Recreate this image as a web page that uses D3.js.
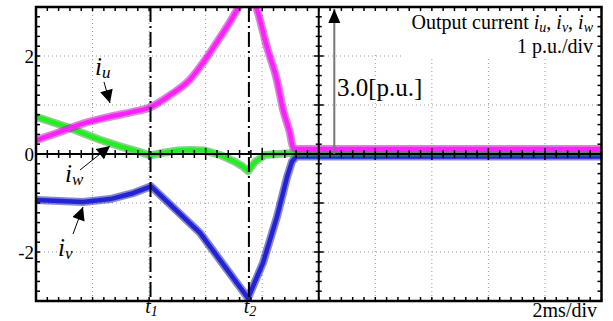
<!DOCTYPE html>
<html>
<head>
<meta charset="utf-8">
<script src="https://cdn.jsdelivr.net/npm/d3@7"></script>
<style>
  body { margin: 0; background: #fff; }
  svg { display: block; font-family: "Liberation Serif", "Times New Roman", serif; }
</style>
</head>
<body>
<figure id="scope" style="margin:0"></figure>
<script>
// time in ms (2 ms/div), current in p.u. (1 p.u./div)
const iuTime = [0, 0.85, 1.66, 2.62, 3.43, 4.03, 4.74, 5.45, 5.98, 6.51, 6.97, 7.21, 7.5, 7.75, 7.82, 8.17, 8.52, 8.74, 8.98, 9.09, 9.23, 20];
const iuVal  = [0.28, 0.45, 0.62, 0.76, 0.86, 0.95, 1.2, 1.52, 1.92, 2.38, 2.8, 3.05, 3.4, 3.05, 2.94, 2.18, 1.51, 0.9, 0.43, 0.14, 0.1, 0.1];

const ivTime = [0, 0.85, 1.66, 2.62, 3.43, 4.07, 5.8, 7.5, 8.03, 8.52, 8.88, 9.05, 9.2, 20];
const ivVal  = [-0.94, -0.96, -0.98, -0.92, -0.8, -0.66, -1.61, -2.94, -2.22, -1.29, -0.47, -0.16, -0.05, -0.05];

const iwTime = [0, 1.1, 2.26, 3.0, 3.43, 3.68, 4.03, 4.56, 5.0, 5.45, 5.98, 6.51, 7.04, 7.3, 7.5, 7.75, 8.1, 9.09, 20];
const iwVal  = [0.76, 0.55, 0.29, 0.15, 0.08, 0.04, -0.03, 0.03, 0.07, 0.08, 0.07, -0.02, -0.16, -0.25, -0.35, -0.16, -0.02, 0.02, 0.03];

const yTickLabels = [2, 0, -2];
const eventTimes = [4.05, 7.53];
const eventLabels = ["1", "2"];

const width = 613, height = 321;
const plotLeft = 36, plotRight = 601.5, plotTop = 7, plotBottom = 301;

const x = d3.scaleLinear().domain([0, 20]).range([plotLeft, plotRight]);
const y = d3.scaleLinear().domain([-3, 3]).range([plotBottom, plotTop]);

const svg = d3.select("figure#scope")
  .append("svg")
  .attr("width", width)
  .attr("height", height)
  .attr("viewBox", [0, 0, width, height]);

const defs = svg.append("defs");
defs.append("clipPath").attr("id", "clip")
  .append("rect")
  .attr("x", plotLeft).attr("y", plotTop)
  .attr("width", plotRight - plotLeft).attr("height", plotBottom - plotTop);
defs.append("marker")
  .attr("id", "head")
  .attr("viewBox", "0 0 10 10")
  .attr("refX", 10).attr("refY", 5)
  .attr("markerWidth", 14).attr("markerHeight", 13)
  .attr("markerUnits", "userSpaceOnUse")
  .attr("orient", "auto")
  .append("path").attr("d", "M0,0L10,5L0,10Z").attr("fill", "#000");

// dotted grid (every division, except the centre cross)
const gx = d3.range(2, 20, 2).filter(d => d !== 10);
const gy = [-2, -1, 1, 2];
svg.append("g")
  .attr("stroke", "#9a9a9a")
  .attr("stroke-width", 1)
  .attr("stroke-dasharray", "1,3")
  .call(g => g.selectAll("line.v").data(gx).join("line")
    .attr("x1", d => x(d)).attr("x2", d => x(d))
    .attr("y1", plotTop).attr("y2", plotBottom))
  .call(g => g.selectAll("line.h").data(gy).join("line")
    .attr("x1", plotLeft).attr("x2", plotRight)
    .attr("y1", d => y(d)).attr("y2", d => y(d)));

// traces
const traces = [
  { t: ivTime, v: ivVal, core: "#2323d6", halo: "#10109a", curve: d3.curveLinear },
  { t: iwTime, v: iwVal, core: "#22ee22", halo: "#1c9c1c", curve: d3.curveLinear },
  { t: iuTime, v: iuVal, core: "#ff20ff", halo: "#b010b0", curve: d3.curveMonotoneX }
];
const tg = svg.append("g").attr("clip-path", "url(#clip)").attr("fill", "none")
  .attr("stroke-linejoin", "round").attr("stroke-linecap", "round");
traces.forEach(s => {
  const pts = s.t.map((t, i) => [t, s.v[i]]);
  const line = d3.line().x(d => x(d[0])).y(d => y(d[1])).curve(s.curve);
  tg.append("path").attr("d", line(pts)).attr("stroke", s.halo).attr("stroke-width", 8).attr("opacity", 0.5);
  tg.append("path").attr("d", line(pts)).attr("stroke", s.core).attr("stroke-width", 4.5);
});

// white boxes behind the upper-right texts
svg.append("g").attr("fill", "#fff")
  .call(g => g.append("rect").attr("x", 345).attr("y", 9).attr("width", 254).attr("height", 45))
  .call(g => g.append("rect").attr("x", 403).attr("y", 54).attr("width", 196).attr("height", 5))
  .call(g => g.append("rect").attr("x", 337).attr("y", 77).attr("width", 90).attr("height", 24));

// centre cross with ticks
const isMajor = d => Math.abs(d - Math.round(d)) < 0.01;
const cross = svg.append("g").attr("stroke", "#000");
cross.append("line").attr("x1", plotLeft).attr("x2", plotRight).attr("y1", y(0)).attr("y2", y(0)).attr("stroke-width", 2);
cross.append("line").attr("x1", x(10)).attr("x2", x(10)).attr("y1", plotTop).attr("y2", plotBottom).attr("stroke-width", 2);
const minorX = d3.range(0, 20.001, 0.4);
const minorY = d3.range(-3, 3.001, 0.2);
cross.selectAll("line.cx").data(minorX).join("line")
  .attr("stroke-width", 1.5)
  .attr("x1", d => x(d)).attr("x2", d => x(d))
  .attr("y1", d => y(0) - (isMajor(d / 2) ? 6 : 4))
  .attr("y2", d => y(0) + (isMajor(d / 2) ? 6 : 4));
cross.selectAll("line.cy").data(minorY).join("line")
  .attr("stroke-width", 1.5)
  .attr("y1", d => y(d)).attr("y2", d => y(d))
  .attr("x1", d => x(10) - (isMajor(d) ? 5 : 3))
  .attr("x2", d => x(10) + (isMajor(d) ? 5 : 3));

// border ticks (pointing inward)
const bt = svg.append("g").attr("stroke", "#000").attr("stroke-width", 1.5);
bt.selectAll("line.t").data(minorX).join("line")
  .attr("x1", d => x(d)).attr("x2", d => x(d)).attr("y1", plotTop).attr("y2", plotTop + 4);
bt.selectAll("line.b").data(minorX).join("line")
  .attr("x1", d => x(d)).attr("x2", d => x(d)).attr("y1", plotBottom).attr("y2", plotBottom - 4);
bt.selectAll("line.l").data(minorY).join("line")
  .attr("y1", d => y(d)).attr("y2", d => y(d)).attr("x1", plotLeft).attr("x2", plotLeft + 4);
bt.selectAll("line.r").data(minorY).join("line")
  .attr("y1", d => y(d)).attr("y2", d => y(d)).attr("x1", plotRight).attr("x2", plotRight - 4);

svg.append("rect")
  .attr("x", plotLeft).attr("y", plotTop)
  .attr("width", plotRight - plotLeft).attr("height", plotBottom - plotTop)
  .attr("fill", "none").attr("stroke", "#000").attr("stroke-width", 2.5);

// t1, t2 dash-dot markers
svg.append("g").attr("stroke", "#000").attr("stroke-width", 2).attr("stroke-dasharray", "15,4,2,4")
  .selectAll("line").data(eventTimes).join("line")
  .attr("x1", d => x(d)).attr("x2", d => x(d)).attr("y1", plotTop).attr("y2", plotBottom);

svg.append("g").attr("font-size", 20).attr("font-style", "italic").attr("text-anchor", "middle")
  .selectAll("text").data(eventTimes).join("text")
  .attr("x", d => x(d) + 1).attr("y", 313)
  .call(t => t.append("tspan").text("t"))
  .call(t => t.append("tspan").attr("font-size", 14).attr("dy", 3).text((d, i) => eventLabels[i]));

// y tick labels
svg.append("g").attr("font-size", 19).attr("text-anchor", "end")
  .selectAll("text").data(yTickLabels).join("text")
  .attr("x", 34).attr("y", d => y(d) + 7)
  .text(d => d);

// 3.0 p.u. arrow
svg.append("line")
  .attr("x1", x(10.55)).attr("x2", x(10.55))
  .attr("y1", y(0)).attr("y2", y(3) + 2)
  .attr("stroke", "#777").attr("stroke-width", 2);
svg.append("path")
  .attr("d", `M${x(10.55)},${y(3) + 2}l-6,14h12z`)
  .attr("fill", "#000");
svg.append("text").attr("x", 337).attr("y", 96).attr("font-size", 25).text("3.0[p.u.]");

// texts
const title = svg.append("text").attr("x", 593).attr("y", 29).attr("font-size", 20).attr("text-anchor", "end");
title.append("tspan").text("Output current ");
[["u", ", "], ["v", ", "], ["w", ""]].forEach(([s, sep]) => {
  title.append("tspan").attr("font-style", "italic").text("i");
  title.append("tspan").attr("font-style", "italic").attr("font-size", 14).attr("dy", 3).text(s);
  title.append("tspan").attr("dy", -3).text(sep);
});
svg.append("text").attr("x", 593).attr("y", 53).attr("font-size", 20).attr("text-anchor", "end").text("1 p.u./div");
svg.append("text").attr("x", 597).attr("y", 317).attr("font-size", 20).attr("text-anchor", "end").text("2ms/div");

// trace labels with arrows
const labels = [
  { s: "u", x: 95, y: 75, from: [104, 82], to: [110, 103] },
  { s: "w", x: 65, y: 182, from: [80, 170], to: [110, 146] },
  { s: "v", x: 58, y: 256, from: [73, 234], to: [83, 207] }
];
labels.forEach(d => {
  const t = svg.append("text").attr("x", d.x).attr("y", d.y).attr("font-size", 25).attr("font-style", "italic");
  t.append("tspan").text("i");
  t.append("tspan").attr("font-size", 17).attr("dy", 3).text(d.s);
  svg.append("line")
    .attr("x1", d.from[0]).attr("y1", d.from[1]).attr("x2", d.to[0]).attr("y2", d.to[1])
    .attr("stroke", "#000").attr("stroke-width", 1)
    .attr("marker-end", "url(#head)");
});
</script>
</body>
</html>
